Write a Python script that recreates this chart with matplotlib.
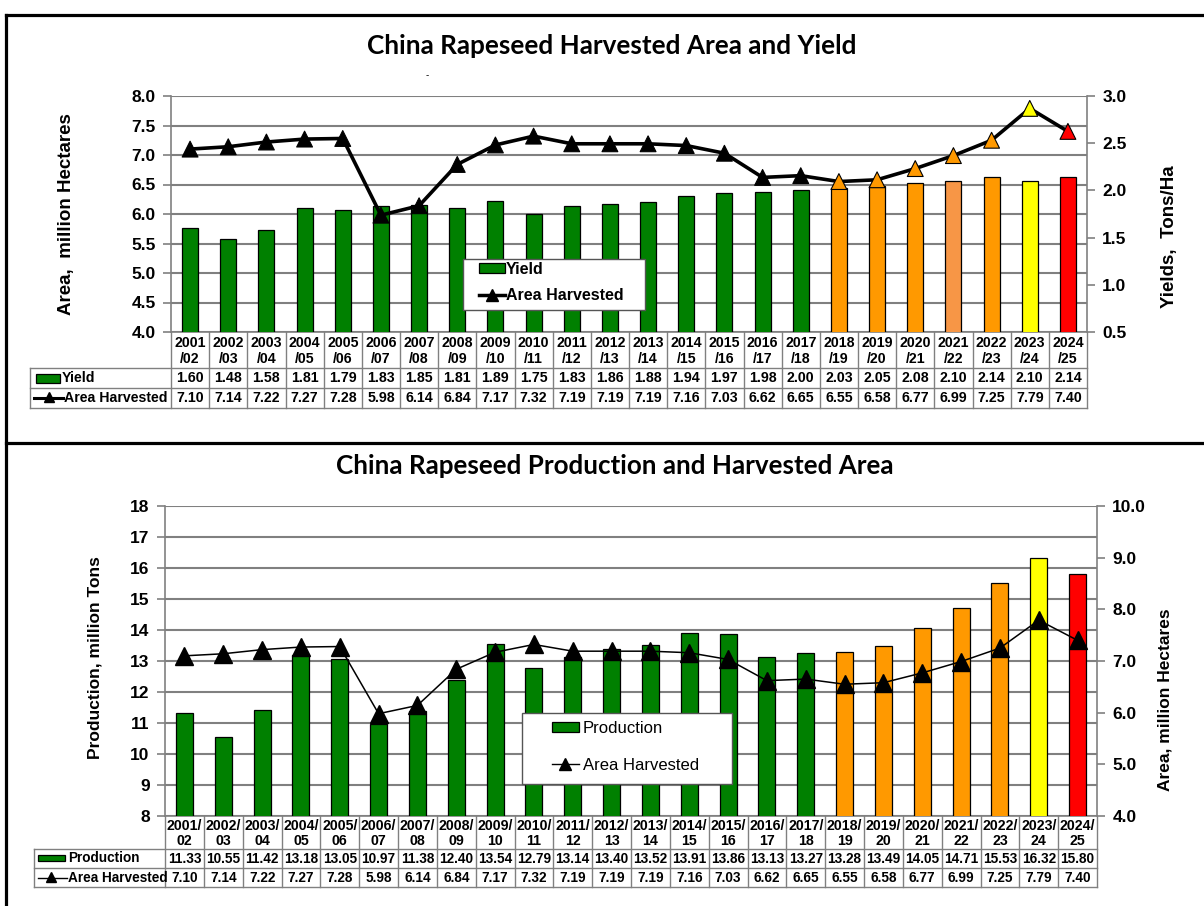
import matplotlib
matplotlib.use('Agg')
import matplotlib.pyplot as plt
from matplotlib.patches import Rectangle, Patch
from matplotlib.lines import Line2D
import numpy as np

# ---------------- data ----------------
seasons = ["2001/02", "2002/03", "2003/04", "2004/05", "2005/06", "2006/07",
           "2007/08", "2008/09", "2009/10", "2010/11", "2011/12", "2012/13",
           "2013/14", "2014/15", "2015/16", "2016/17", "2017/18", "2018/19",
           "2019/20", "2020/21", "2021/22", "2022/23", "2023/24", "2024/25"]
yield_vals = [1.60, 1.48, 1.58, 1.81, 1.79, 1.83, 1.85, 1.81, 1.89, 1.75, 1.83, 1.86,
              1.88, 1.94, 1.97, 1.98, 2.00, 2.03, 2.05, 2.08, 2.10, 2.14, 2.10, 2.14]
area_vals = [7.10, 7.14, 7.22, 7.27, 7.28, 5.98, 6.14, 6.84, 7.17, 7.32, 7.19, 7.19,
             7.19, 7.16, 7.03, 6.62, 6.65, 6.55, 6.58, 6.77, 6.99, 7.25, 7.79, 7.40]
prod_vals = [11.33, 10.55, 11.42, 13.18, 13.05, 10.97, 11.38, 12.40, 13.54, 12.79, 13.14, 13.40,
             13.52, 13.91, 13.86, 13.13, 13.27, 13.28, 13.49, 14.05, 14.71, 15.53, 16.32, 15.80]

top_labels = [s.split("/")[0] + "\n/" + s.split("/")[1] for s in seasons]
bot_labels = [s.split("/")[0] + "/\n" + s.split("/")[1] for s in seasons]

GREEN, ORANGE, LORANGE, YELLOW, RED = '#008000', '#FF9900', '#F79646', '#FFFF00', '#FF0000'
top_bar_colors = [GREEN] * 17 + [ORANGE, ORANGE, ORANGE, LORANGE, ORANGE, YELLOW, RED]
top_marker_colors = ['black'] * 17 + [ORANGE] * 5 + [YELLOW, RED]
bot_bar_colors = [GREEN] * 17 + [ORANGE] * 5 + [YELLOW, RED]

# ---------------- layout ----------------
W, H = 1204, 906
plt.rcParams['font.family'] = ['Liberation Sans', 'DejaVu Sans']
fig = plt.figure(figsize=(W / 100, H / 100), dpi=100)

def fx(x):
    return x / W

def fy(y):
    return 1 - y / H

GRID = '#808080'
n = len(seasons)
x = np.arange(n)

ov = fig.add_axes([0, 0, 1, 1])
ov.set_xlim(0, W)
ov.set_ylim(H, 0)
ov.axis('off')
ov.set_zorder(-5)

# borders
ov.plot([6, 1204], [15, 15], color='black', lw=2.3, clip_on=False)
ov.plot([6, 6], [15, 906], color='black', lw=2.3, clip_on=False)
ov.plot([6, 1204], [443, 443], color='black', lw=2.3, clip_on=False)


def fit_title(txt, cx, cy, target_w):
    t = fig.text(fx(cx), fy(cy), txt, ha='center', va='center', fontsize=18,
                 fontweight='bold', family=['Lato', 'DejaVu Sans'])
    r = fig.canvas.get_renderer()
    w = t.get_window_extent(renderer=r).width
    t.set_fontsize(18 * target_w / w)
    return t


def style_ticks(ax, side):
    ax.tick_params(axis='y', which='both', direction='out', length=6, width=1.2,
                   color=GRID, labelsize=12.5, pad=5,
                   left=(side == 'left'), labelleft=(side == 'left'),
                   right=(side == 'right'), labelright=(side == 'right'))
    ax.tick_params(axis='x', bottom=False, labelbottom=False, top=False)
    for lab in ax.get_yticklabels():
        lab.set_fontweight('bold')


def draw_table(left, right, tab_left, ys, labels, rows, fs, fs_cat):
    cw = (right - left) / n
    ov.plot([left, right], [ys[0], ys[0]], color=GRID, lw=1.2)
    for i in range(n + 1):
        xx = left + i * cw
        ov.plot([xx, xx], [ys[0], ys[3]], color=GRID, lw=1.0)
    for k in (1, 2, 3):
        ov.plot([tab_left, right], [ys[k], ys[k]], color=GRID, lw=1.0)
    ov.plot([tab_left, tab_left], [ys[1], ys[3]], color=GRID, lw=1.0)
    for i in range(n):
        cx = left + (i + 0.5) * cw
        ov.text(cx, (ys[0] + ys[1]) / 2 + 1, labels[i], ha='center', va='center',
                fontsize=fs_cat, fontweight='bold', linespacing=1.1)
        for k, vals in enumerate(rows):
            ov.text(cx, (ys[k + 1] + ys[k + 2]) / 2 + 0.5, f"{vals[i]:.2f}",
                    ha='center', va='center', fontsize=fs, fontweight='bold')


# ================= TOP CHART =================
tl, tr, tt, tb = 171, 1087, 96, 332
rect_top = [fx(tl), fy(tb), (tr - tl) / W, (tb - tt) / H]
axg = fig.add_axes(rect_top)
axg.set_xlim(-0.5, n - 0.5)
axg.set_ylim(4.0, 8.0)
axg.set_yticks(np.arange(4.0, 8.01, 0.5))
axg.set_yticklabels([f"{v:.1f}" for v in np.arange(4.0, 8.01, 0.5)])
axg.yaxis.grid(True, color=GRID, lw=1.5)
for s in ('top', 'right', 'bottom'):
    axg.spines[s].set_visible(False)
axg.spines['left'].set_color(GRID)
axg.spines['left'].set_linewidth(1.2)
style_ticks(axg, 'left')
axg.set_ylabel('Area,  million Hectares', fontsize=13.5, fontweight='bold')
axg.yaxis.set_label_coords((75 - tl) / (tr - tl), (tb - 214) / (tb - tt))

axb = fig.add_axes(rect_top)
axb.patch.set_visible(False)
axb.set_xlim(-0.5, n - 0.5)
axb.set_ylim(0.5, 3.0)
axb.bar(x, yield_vals, width=0.42, color=top_bar_colors, edgecolor='black', lw=0.9)
axb.set_yticks(np.arange(0.5, 3.01, 0.5))
axb.set_yticklabels([f"{v:.1f}" for v in np.arange(0.5, 3.01, 0.5)])
for s in ('top', 'left', 'bottom'):
    axb.spines[s].set_visible(False)
axb.spines['right'].set_color(GRID)
axb.spines['right'].set_linewidth(1.2)
style_ticks(axb, 'right')
axb.set_ylabel('Yields,  Tons/Ha', fontsize=13.5, fontweight='bold')
axb.yaxis.set_label_position('right')
axb.yaxis.set_label_coords((1161 - tl) / (tr - tl), (tb - 237) / (tb - tt))

axl = fig.add_axes(rect_top)
axl.patch.set_visible(False)
axl.set_xlim(-0.5, n - 0.5)
axl.set_ylim(4.0, 8.0)
axl.axis('off')
axl.plot(x, area_vals, color='black', lw=2.6, zorder=3, clip_on=False)
axl.scatter(x, area_vals, marker='^', s=130, c=top_marker_colors, edgecolors='black',
            linewidths=0.8, zorder=4, clip_on=False)

fit_title('China Rapeseed Harvested Area and Yield', 612, 46, 489)
ov.text(427, 75, '-', fontsize=7, ha='center', va='center')

draw_table(tl, tr, 30, [332, 368, 388, 408], top_labels, [yield_vals, area_vals], 10.2, 10.2)
ov.add_patch(Rectangle((36, 374), 24, 9, facecolor=GREEN, edgecolor='black', lw=0.9))
ov.text(62, 378.5, 'Yield', ha='left', va='center', fontsize=10.2, fontweight='bold')
ov.plot([34, 63], [398, 398], color='black', lw=2.2)
ov.plot([48.5], [397], marker='^', color='black', ms=7)
ov.text(64, 398.5, 'Area Harvested', ha='left', va='center', fontsize=10.2, fontweight='bold')

# legend top
fig.add_artist(Rectangle((fx(463), fy(310)), 182 / W, 51 / H, transform=fig.transFigure,
                         facecolor='white', edgecolor='#555555', lw=1.0, zorder=4.9))
h1 = [Patch(facecolor=GREEN, edgecolor='black', lw=0.9),
      Line2D([], [], color='black', lw=2.5, marker='^', ms=8)]
fig.legend(h1, ['Yield', 'Area Harvested'], loc='upper left',
           bbox_to_anchor=(fx(479), fy(262)), bbox_transform=fig.transFigure,
           frameon=False, borderpad=0, borderaxespad=0, handlelength=1.6,
           handleheight=0.6, handletextpad=0.1, labelspacing=0.7,
           prop={'weight': 'bold', 'size': 11.5})

# ================= BOTTOM CHART =================
bl, br, bt, bb = 165, 1097, 506, 816
rect_bot = [fx(bl), fy(bb), (br - bl) / W, (bb - bt) / H]
ax2 = fig.add_axes(rect_bot)
ax2.set_xlim(-0.5, n - 0.5)
ax2.set_ylim(8, 18)
ax2.set_axisbelow(True)
ax2.yaxis.grid(True, color=GRID, lw=1.5)
ax2.bar(x, prod_vals, width=0.44, color=bot_bar_colors, edgecolor='black', lw=0.9)
ax2.set_yticks(np.arange(8, 19, 1))
ax2.set_yticklabels([str(v) for v in range(8, 19)])
for s in ('top', 'right', 'bottom'):
    ax2.spines[s].set_visible(False)
ax2.spines['left'].set_color(GRID)
ax2.spines['left'].set_linewidth(1.2)
style_ticks(ax2, 'left')
ax2.set_ylabel('Production, million Tons', fontsize=12.5, fontweight='bold')
ax2.yaxis.set_label_coords((103 - bl) / (br - bl), (bb - 658) / (bb - bt))

ax2r = fig.add_axes(rect_bot)
ax2r.patch.set_visible(False)
ax2r.set_xlim(-0.5, n - 0.5)
ax2r.set_ylim(4.0, 10.0)
ax2r.plot(x, area_vals, color='black', lw=1.1, marker='^', ms=13, mfc='black',
          mec='black', zorder=3, clip_on=False)
ax2r.set_yticks(np.arange(4.0, 10.01, 1.0))
ax2r.set_yticklabels([f"{v:.1f}" for v in np.arange(4.0, 10.01, 1.0)])
for s in ('top', 'left', 'bottom'):
    ax2r.spines[s].set_visible(False)
ax2r.spines['right'].set_color(GRID)
ax2r.spines['right'].set_linewidth(1.2)
style_ticks(ax2r, 'right')
ax2r.set_ylabel('Area, million Hectares', fontsize=12.5, fontweight='bold')
ax2r.yaxis.set_label_position('right')
ax2r.yaxis.set_label_coords((1157 - bl) / (br - bl), (bb - 700) / (bb - bt))

fit_title('China Rapeseed Production and Harvested Area', 615, 466, 559)

draw_table(bl, br, 34, [816, 849, 868, 887], bot_labels, [prod_vals, area_vals], 9.8, 10.2)
ov.add_patch(Rectangle((38, 855), 27, 6, facecolor=GREEN, edgecolor='black', lw=0.9))
ov.text(68, 858.5, 'Production', ha='left', va='center', fontsize=9.8, fontweight='bold')
ov.plot([38, 67], [877.5, 877.5], color='black', lw=1.0)
ov.plot([51], [876.5], marker='^', color='black', ms=6.5)
ov.text(68, 878, 'Area Harvested', ha='left', va='center', fontsize=9.8, fontweight='bold')

fig.add_artist(Rectangle((fx(522), fy(784)), 210 / W, 71 / H, transform=fig.transFigure,
                         facecolor='white', edgecolor='#555555', lw=1.0, zorder=4.9))
h2 = [Patch(facecolor=GREEN, edgecolor='black', lw=0.9),
      Line2D([], [], color='black', lw=1.0, marker='^', ms=8)]
fig.legend(h2, ['Production', 'Area Harvested'], loc='upper left',
           bbox_to_anchor=(fx(552), fy(721)), bbox_transform=fig.transFigure,
           frameon=False, borderpad=0, borderaxespad=0, handlelength=1.6,
           handleheight=0.55, handletextpad=0.25, labelspacing=1.3,
           prop={'size': 12})

fig.savefig('out.png', dpi=100)
